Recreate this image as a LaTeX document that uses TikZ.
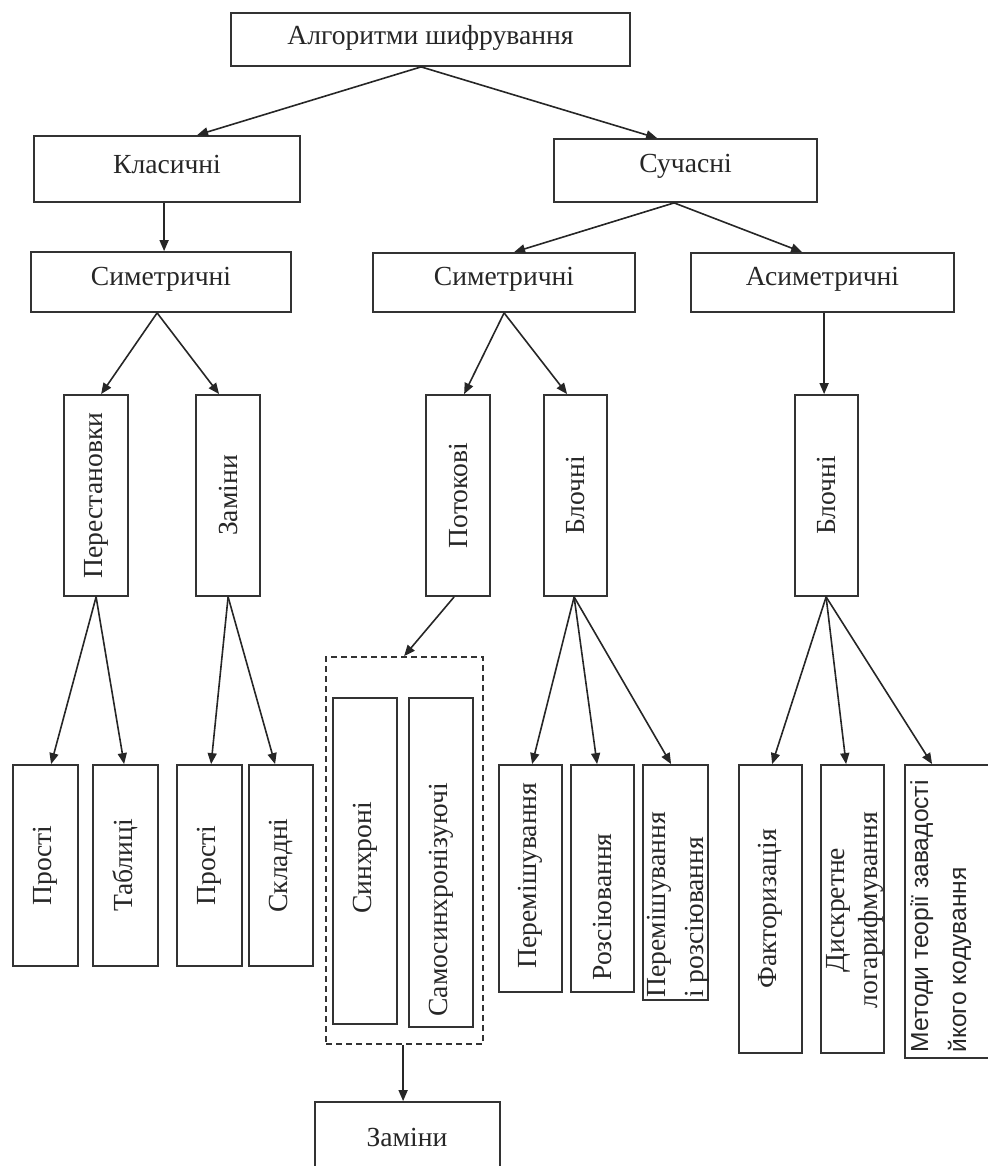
\documentclass[tikz,border=0pt]{standalone}
\usepackage{fontspec}
\setmainfont{Liberation Serif}
\newfontfamily\sansf{Liberation Sans}
\usetikzlibrary{arrows.meta,calc,fit}
\begin{document}
\begin{tikzpicture}[x=0.5pt,y=-0.5pt,
  box/.style={draw=black!80, line width=0.9pt, inner sep=0pt},
  dbox/.style={box, dash pattern=on 3pt off 2pt},
  arr/.style={draw=black!85, line width=0.8pt, -{Triangle[length=5.5pt,width=4.5pt]}},
  txt/.style={font=\fontsize{13.8}{16}\selectfont, inner sep=0pt, text=black!85},
  vtxt/.style={txt, rotate=90},
  stxt/.style={vtxt, font=\sansf\fontsize{12.3}{14}\selectfont},
]
\useasboundingbox (0,0) rectangle (988,1166);

% level 0-2
\node[box, fit={(231,13) (630,66)}] (alg) {};
\node[txt] (algT) at ($(alg.center)+(0,-2)$) {Алгоритми шифрування};
\node[box, fit={(34,136) (300,202)}] (kl) {};
\node[txt] (klT) at ($(kl.center)+(0,-5)$) {Класичні};
\node[box, fit={(554,139) (817,202)}] (su) {};
\node[txt] (suT) at ($(su.center)+(0,-4)$) {Сучасні};
\node[box, fit={(31,252) (291,312)}] (syl) {};
\node[txt] (sylT) at ($(syl.center)+(0,-3)$) {Симетричні};
\node[box, fit={(373,253) (635,312)}] (sym) {};
\node[txt] (symT) at ($(sym.center)+(0,-3)$) {Симетричні};
\node[box, fit={(691,253) (954,312)}] (asy) {};
\node[txt] (asyT) at ($(asy.center)+(0,-3)$) {Асиметричні};

% level 3
\node[box, fit={(64,395) (128,596)}] (per) {};
\node[vtxt] (perT) at (per.center) {Перестановки};
\node[box, fit={(196,395) (260,596)}] (zam) {};
\node[vtxt] (zamT) at (zam.center) {Заміни};
\node[box, fit={(426,395) (490,596)}] (pot) {};
\node[vtxt] (potT) at (pot.center) {Потокові};
\node[box, fit={(544,395) (607,596)}] (blm) {};
\node[vtxt] (blmT) at (blm.center) {Блочні};
\node[box, fit={(795,395) (858,596)}] (blr) {};
\node[vtxt] (blrT) at (blr.center) {Блочні};

% level 4 left
\node[box, fit={(13,765) (78,966)}] (pr1) {};
\node[vtxt] (pr1T) at (pr1.center) {Прості};
\node[box, fit={(93,765) (158,966)}] (tab) {};
\node[vtxt] (tabT) at (tab.center) {Таблиці};
\node[box, fit={(177,765) (242,966)}] (pr2) {};
\node[vtxt] (pr2T) at (pr2.center) {Прості};
\node[box, fit={(249,765) (313,966)}] (skl) {};
\node[vtxt] (sklT) at (skl.center) {Складні};

% dashed group
\node[dbox, fit={(326,657) (483,1044)}] (dash) {};
\node[box, fit={(333,698) (397,1024)}] (syn) {};
\node[vtxt] (synT) at ($(syn.center)+(0,-3)$) {Синхроні};
\node[box, fit={(409,698) (473,1027)}] (sam) {};
\node[vtxt, anchor=west] (samT) at (441,1017) {Самосинхронізуючі};
\node[box, fit={(315,1102) (500,1185)}] (zb) {};
\node[txt] (zbT) at (407,1137) {Заміни};

% level 4 middle
\node[box, fit={(499,765) (562,992)}] (pm) {};
\node[vtxt] (pmT) at ($(pm.center)+(0,-3)$) {Перемішування};
\node[box, fit={(571,765) (634,992)}] (roz) {};
\node[vtxt] (rozT) at (602,907) {Розсіювання};
\node[box, fit={(643,765) (708,1000)}] (pir) {};
\node[vtxt, align=left, anchor=north west] (pirT) at (647,998) {Перемішування\\[3pt]і розсіювання};

% level 4 right
\node[box, fit={(739,765) (802,1053)}] (fak) {};
\node[vtxt] (fakT) at (fak.center) {Факторизація};
\node[box, fit={(821,765) (884,1053)}] (dis) {};
\node[vtxt, align=center] (disT) at (855,910) {Дискретне\\[0.5pt]логарифмування};
\node[box, fit={(905,765) (1000,1058)}] (met) {};
\node[stxt, align=left, anchor=north west] (metT) at (910,1053) {Методи теорії завадості\\[5pt]йкого кодування};

% connectors
\draw[arr] ($(alg.south west)+(191,0)$) -- ($(kl.north west)+(164,0)$);
\draw[arr] ($(alg.south west)+(191,0)$) -- ($(su.north west)+(104,0)$);
\draw[arr] ($(kl.south west)+(131,0)$) -- ($(syl.north west)+(134,0)$);
\draw[arr] ($(su.south west)+(121,0)$) -- ($(sym.north west)+(142,0)$);
\draw[arr] ($(su.south west)+(121,0)$) -- ($(asy.north west)+(112,0)$);
\draw[arr] ($(syl.south west)+(127,0)$) -- ($(per.north west)+(38,0)$);
\draw[arr] ($(syl.south west)+(127,0)$) -- ($(zam.north west)+(24,0)$);
\draw[arr] ($(sym.south west)+(132,0)$) -- ($(pot.north west)+(39,0)$);
\draw[arr] ($(sym.south west)+(132,0)$) -- ($(blm.north west)+(24,0)$);
\draw[arr] ($(asy.south west)+(134,0)$) -- ($(blr.north west)+(30,0)$);
\draw[arr] ($(per.south west)+(33,0)$) -- ($(pr1.north west)+(39,0)$);
\draw[arr] ($(per.south west)+(33,0)$) -- ($(tab.north west)+(32,0)$);
\draw[arr] ($(zam.south west)+(33,0)$) -- ($(pr2.north west)+(35,0)$);
\draw[arr] ($(zam.south west)+(33,0)$) -- ($(skl.north west)+(27,0)$);
\draw[arr] ($(pot.south west)+(29,0)$) -- ($(dash.north west)+(79,0)$);
\draw[arr] ($(blm.south west)+(31,0)$) -- ($(pm.north west)+(34,0)$);
\draw[arr] ($(blm.south west)+(31,0)$) -- ($(roz.north west)+(27,0)$);
\draw[arr] ($(blm.south west)+(31,0)$) -- ($(pir.north west)+(29,0)$);
\draw[arr] ($(blr.south west)+(32,0)$) -- ($(fak.north west)+(34,0)$);
\draw[arr] ($(blr.south west)+(32,0)$) -- ($(dis.north west)+(26,0)$);
\draw[arr] ($(blr.south west)+(32,0)$) -- ($(met.north west)+(28,0)$);
\draw[arr] ($(dash.south west)+(78,0)$) -- ($(zb.north west)+(89,0)$);
\end{tikzpicture}
\end{document}
